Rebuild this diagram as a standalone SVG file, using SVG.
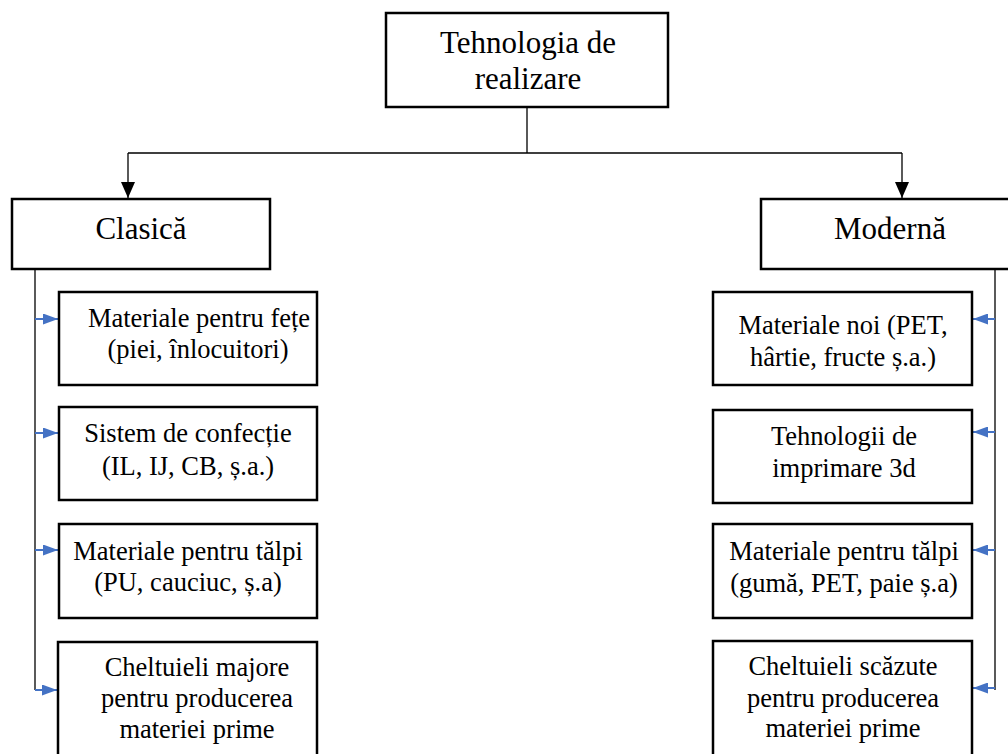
<svg xmlns="http://www.w3.org/2000/svg" width="1008" height="754" viewBox="0 0 1008 754">
<style>
.box{fill:#fff;stroke:#000;stroke-width:2.5}
.ln{fill:none;stroke:#000;stroke-width:1.3}
.bl{fill:none;stroke:#4472C4;stroke-width:2}
.big{font-family:"Liberation Serif","Times New Roman",serif;font-size:31px;fill:#000;text-anchor:middle}
.sm{font-family:"Liberation Serif","Times New Roman",serif;font-size:26.5px;fill:#000;text-anchor:middle}
</style>
<defs>
<marker id="ab" viewBox="0 0 16 14" refX="16" refY="7" markerWidth="16" markerHeight="14" markerUnits="userSpaceOnUse" orient="auto"><path d="M0,0 L16,7 L0,14 Z" fill="#000"/></marker>
<marker id="bb" viewBox="0 0 15 11" refX="15" refY="5.5" markerWidth="15" markerHeight="11" markerUnits="userSpaceOnUse" orient="auto"><path d="M0,0 L15,5.5 L0,11 Z" fill="#4472C4"/></marker>
</defs>
<rect width="1008" height="754" fill="#fff"/>
<g id="connectors">
<path class="ln" d="M527,107 V153 M128,153 H902"/>
<path class="ln" d="M128,153 V198" marker-end="url(#ab)"/>
<path class="ln" d="M902,153 V198" marker-end="url(#ab)"/>
<path class="ln" d="M35,269 V690"/>
<path class="ln" d="M995,269 V690"/>
<path class="bl" d="M35,319 H58" marker-end="url(#bb)"/>
<path class="bl" d="M35,433 H58" marker-end="url(#bb)"/>
<path class="bl" d="M35,550 H58" marker-end="url(#bb)"/>
<path class="bl" d="M35,690 H57" marker-end="url(#bb)"/>
<path class="bl" d="M995,319 H973" marker-end="url(#bb)"/>
<path class="bl" d="M995,432 H973" marker-end="url(#bb)"/>
<path class="bl" d="M995,550 H973" marker-end="url(#bb)"/>
<path class="bl" d="M995,688 H973" marker-end="url(#bb)"/>
</g>
<g id="root"><rect class="box" x="386" y="13" width="282" height="94"/>
<text class="big" x="528" y="53">Tehnologia de</text><text class="big" x="528" y="89">realizare</text></g>
<g id="clasica"><rect class="box" x="12" y="199" width="258" height="70"/><text class="big" x="141" y="239">Clasică</text></g>
<g id="moderna"><rect class="box" x="761" y="199" width="258" height="70"/><text class="big" x="890" y="239">Modernă</text></g>
<g id="c1"><rect class="box" x="59" y="292" width="258" height="93"/>
<text class="sm" x="199" y="327">Materiale pentru fețe</text><text class="sm" x="198" y="358">(piei, înlocuitori)</text></g>
<g id="c2"><rect class="box" x="59" y="407" width="258" height="93"/>
<text class="sm" x="188" y="442">Sistem de confecție</text><text class="sm" x="188" y="475">(IL, IJ, CB, ș.a.)</text></g>
<g id="c3"><rect class="box" x="59" y="524" width="258" height="94"/>
<text class="sm" x="188" y="560">Materiale pentru tălpi</text><text class="sm" x="188" y="591">(PU, cauciuc, ș.a)</text></g>
<g id="c4"><rect class="box" x="58" y="642" width="259" height="120"/>
<text class="sm" x="197" y="676">Cheltuieli majore</text><text class="sm" x="197" y="707">pentru producerea</text><text class="sm" x="197" y="738">materiei prime</text></g>
<g id="m1"><rect class="box" x="713" y="292" width="259" height="93"/>
<text class="sm" x="843" y="334">Materiale noi (PET,</text><text class="sm" x="843" y="366">hârtie, fructe ș.a.)</text></g>
<g id="m2"><rect class="box" x="713" y="410" width="259" height="93"/>
<text class="sm" x="844" y="445">Tehnologii de</text><text class="sm" x="844" y="477">imprimare 3d</text></g>
<g id="m3"><rect class="box" x="713" y="524" width="259" height="94"/>
<text class="sm" x="844" y="560">Materiale pentru tălpi</text><text class="sm" x="844" y="592">(gumă, PET, paie ș.a)</text></g>
<g id="m4"><rect class="box" x="713" y="641" width="259" height="120"/>
<text class="sm" x="843" y="675">Cheltuieli scăzute</text><text class="sm" x="843" y="707">pentru producerea</text><text class="sm" x="843" y="737">materiei prime</text></g>
</svg>
